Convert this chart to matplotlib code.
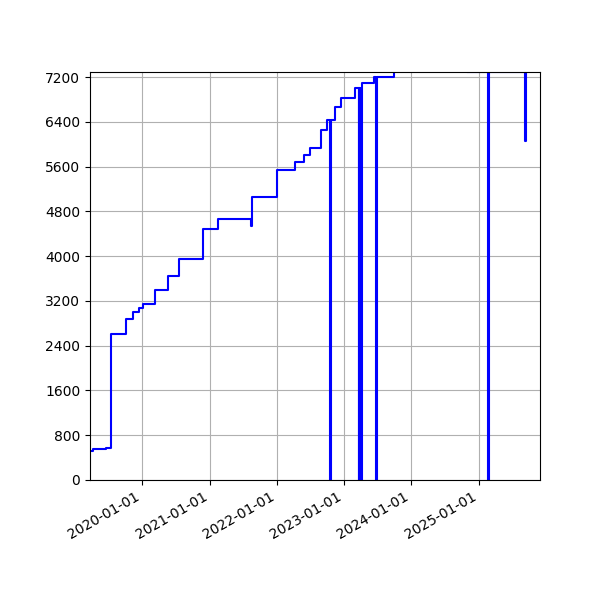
import matplotlib
matplotlib.use("Agg")
import matplotlib.pyplot as plt
import matplotlib.dates as mdates
import numpy as np

# change points of the series (value holds until next date)
dates = [
    "2019-03-28", "2019-04-10", "2019-06-01", "2019-06-20",
    "2019-07-15", "2019-10-05", "2019-11-13", "2019-12-16",
    "2020-01-06", "2020-03-10", "2020-05-20", "2020-07-20",
    "2020-11-24", "2021-02-17", "2021-08-16", "2021-08-18",
    "2022-01-02", "2022-04-12", "2022-05-29", "2022-06-29",
    "2022-08-28", "2022-09-30", "2022-10-15", "2022-10-20",
    "2022-11-14", "2022-12-18", "2023-03-03", "2023-03-21",
    "2023-03-26", "2023-03-28", "2023-04-02", "2023-04-04",
    "2023-04-08", "2023-06-13", "2023-06-24", "2023-06-29",
    "2023-09-30", "2024-10-30", "2025-02-22", "2025-02-27",
    "2025-09-11", "2025-09-16", "2025-09-17",
]
values = [
    520, 545, 560, 578,
    2610, 2880, 3000, 3070,
    3145, 3395, 3650, 3955,
    4480, 4665, 4547, 5050,
    5535, 5675, 5805, 5925,
    6245, 6440, 0, 6440,
    6670, 6830, 7010, 0,
    7010, 0, 7010, 0,
    7088, 7208, 0, 7208,
    7500, 7293, 0, 7293,
    6060, 7293, 7293,
]

x = np.array(dates, dtype="datetime64[D]")
y = np.array(values)

fig, ax = plt.subplots(figsize=(6, 6), dpi=100)
ax.plot(x, y, color="b", lw=1.5, drawstyle="steps-post")

ax.set_xlim(np.datetime64("2019-03-23"), np.datetime64("2025-12-01"))
ax.set_ylim(0, 7290)
ax.set_yticks(range(0, 7290, 800))
ax.xaxis.set_major_locator(mdates.YearLocator())
ax.xaxis.set_major_formatter(mdates.DateFormatter("%Y-%m-%d"))
ax.grid(True)

fig.autofmt_xdate()
fig.subplots_adjust(left=0.15)
fig.savefig("out.png")
